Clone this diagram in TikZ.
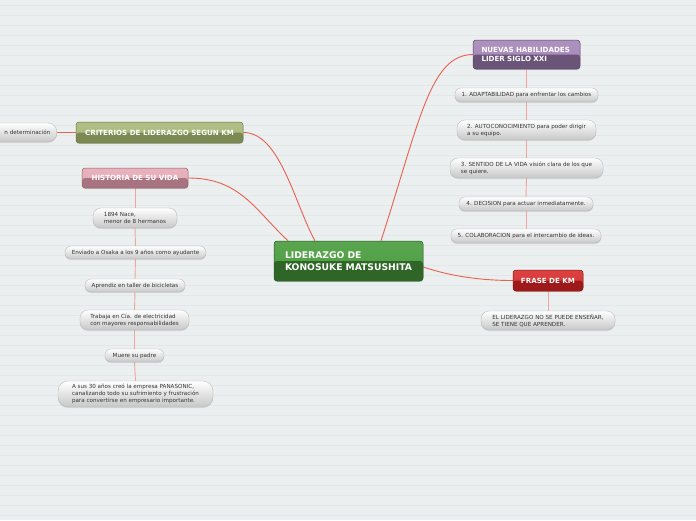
\documentclass[tikz,border=0pt]{standalone}
\usepackage{fontspec}
\setmainfont{DejaVu Sans}
\usetikzlibrary{shadows,backgrounds}
\definecolor{bgfill}{HTML}{EBEFEF}
\definecolor{bgline}{HTML}{E2E7E7}
\definecolor{linkred}{HTML}{E9604E}
\definecolor{sublink}{HTML}{F3A3A0}
\definecolor{cgtop}{HTML}{4B9E40}
\definecolor{cgbot}{HTML}{2F6628}
\definecolor{putop}{HTML}{A688B8}
\definecolor{pubot}{HTML}{6A5478}
\definecolor{rdtop}{HTML}{D83232}
\definecolor{rdbot}{HTML}{9E1A1A}
\definecolor{oltop}{HTML}{A9B97B}
\definecolor{olbot}{HTML}{7A8A52}
\definecolor{pktop}{HTML}{E6ABB7}
\definecolor{pkbot}{HTML}{A87482}
\tikzset{
  topic/.style n args={2}{rounded corners=3pt, draw=#2!85!black, line width=0.5pt,
    top color=#1!92!white, bottom color=#1,
    path picture={\fill[#2] (path picture bounding box.west) rectangle (path picture bounding box.south east);},
    text=white, font=\bfseries\fontsize{7.1}{8.7}\selectfont, inner sep=0pt, align=center,
    drop shadow={shadow xshift=0.3pt, shadow yshift=-1.2pt, opacity=0.25}},
  pill/.style={rounded corners=#1, draw=black!30, line width=0.3pt, top color=white, bottom color=black!22,
    text=black!80, font=\fontsize{5.6}{7}\selectfont, inner sep=0pt, align=center,
    drop shadow={shadow xshift=0pt, shadow yshift=-1pt, opacity=0.18}},
  pill/.default=6pt,
  link/.style={draw=linkred, line width=0.9pt},
  sublinkline/.style={draw=sublink, line width=0.9pt},
}
\begin{document}
\begin{tikzpicture}[x=1pt,y=-1pt]
\useasboundingbox (0,0) rectangle (696,520);
\clip (0,0) rectangle (696,520);
\begin{scope}[on background layer]
  \fill[bgfill] (0,0) rectangle (696,520);
  \foreach \yy in {5.5,15.5,...,515.5} \draw[bgline, line width=1.6pt] (0,\yy) -- (696,\yy);
\end{scope}

% main topics
\node[topic={cgtop}{cgbot}, minimum width=149pt, minimum height=40pt, text width=127pt, align=left,
  font=\bfseries\fontsize{9.2}{12}\selectfont] (central) at (348.5,261) {LIDERAZGO DE\\KONOSUKE MATSUSHITA};
\node[topic={putop}{pubot}, minimum width=107pt, minimum height=29pt, text width=90pt, align=left] (nuevas) at (526.5,54.5) {NUEVAS HABILIDADES\\LIDER SIGLO XXI};
\node[topic={rdtop}{rdbot}, minimum width=70pt, minimum height=21pt] (frase) at (548,280.5) {FRASE DE KM};
\node[topic={oltop}{olbot}, minimum width=167pt, minimum height=21pt] (criterios) at (159.5,132.5) {CRITERIOS DE LIDERAZGO SEGUN KM};
\node[topic={pktop}{pkbot}, minimum width=106pt, minimum height=20pt] (historia) at (135,178) {HISTORIA DE SU VIDA};

% right children
\node[pill, minimum width=143pt, minimum height=14pt] (r1) at (526.5,95) {1. ADAPTABILIDAD para enfrentar los cambios};
\node[pill=8pt, minimum width=139pt, minimum height=20pt, align=left] (r2) at (526.5,130) {2. AUTOCONOCIMIENTO para poder dirigir\\a su equipo.};
\node[pill=8pt, minimum width=153pt, minimum height=20pt, align=left] (r3) at (526.5,168) {3. SENTIDO DE LA VIDA visión clara de los que\\se quiere.};
\node[pill, minimum width=134pt, minimum height=14pt] (r4) at (526,204) {4. DECISION para actuar inmediatamente.};
\node[pill, minimum width=150pt, minimum height=14pt] (r5) at (526,236) {5. COLABORACION para el intercambio de ideas.};

% frase child
\node[pill=8pt, minimum width=134pt, minimum height=19pt, align=left] (f1) at (548,320.5) {EL LIDERAZGO NO SE PUEDE ENSEÑAR,\\SE TIENE QUE APRENDER.};

% historia children
\node[pill=8pt, minimum width=84pt, minimum height=20pt, align=left] (h1) at (135,218) {1894 Nace,\\menor de 8 hermanos};
\node[pill, minimum width=141pt, minimum height=13pt] (h2) at (135.5,252.5) {Enviado a Osaka a los 9 años como ayudante};
\node[pill, minimum width=100pt, minimum height=13pt] (h3) at (135,285.5) {Aprendiz en taller de bicicletas};
\node[pill=8pt, minimum width=109pt, minimum height=20pt, align=left] (h4) at (134.5,320) {Trabaja en Cía. de electricidad\\con mayores responsabilidades};
\node[pill, minimum width=59pt, minimum height=13pt] (h5) at (134.5,355.5) {Muere su padre};
\node[pill=10pt, minimum width=155pt, minimum height=26pt, align=left] (h6) at (135.5,394) {A sus 30 años creó la empresa PANASONIC,\\canalizando todo su sufrimiento y frustración\\para convertirse en empresario importante.};

% criterios child (cut by the left edge)
\node[pill=9pt, anchor=east, minimum height=19pt, text width=80pt, align=right, inner xsep=6.5pt] (c1) at (57,132.5) {n determinación};

\begin{scope}[on background layer]
  \draw[link] ([xshift=32.5pt]central.north) .. controls (420,120) and (430,55) .. (nuevas.west);
  \draw[link] ([xshift=-33.5pt]central.north) .. controls (295,205) and (280,132) .. (criterios.east);
  \draw[link] ([xshift=-60.5pt]central.north) .. controls (255,210) and (240,178) .. (historia.east);
  \draw[link] ([yshift=-6pt]central.east) .. controls (450,276) and (480,280.5) .. (frase.west);
  \draw[link] (c1.east) -- (criterios.west);
  \draw[sublinkline] (nuevas.south) -- (r1.north);
  \draw[sublinkline] (r1.south) -- (r2.north);
  \draw[sublinkline] (r2.south) -- (r3.north);
  \draw[sublinkline] (r3.south) -- (r4.north);
  \draw[sublinkline] (r4.south) -- (r5.north);
  \draw[sublinkline] (frase.south) -- (f1.north);
  \draw[sublinkline] (historia.south) -- (h1.north);
  \draw[sublinkline] (h1.south) -- (h2.north);
  \draw[sublinkline] (h2.south) -- (h3.north);
  \draw[sublinkline] (h3.south) -- (h4.north);
  \draw[sublinkline] (h4.south) -- (h5.north);
  \draw[sublinkline] (h5.south) -- (h6.north);
\end{scope}
\end{tikzpicture}
\end{document}
